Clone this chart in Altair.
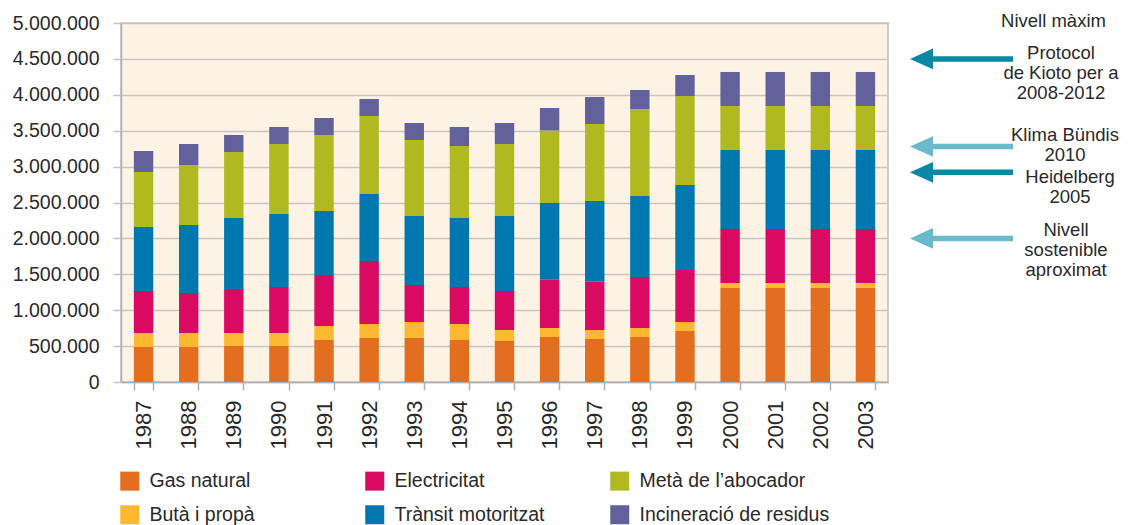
import altair as alt
import pandas as pd

# ---------------- data ----------------
years = [str(y) for y in range(1987, 2004)]

gas_natural = [487000, 487000, 501000, 501000, 585000, 613000, 613000, 585000, 571000,
               627000, 599000, 627000, 710000, 1309000, 1309000, 1309000, 1309000]
buta_propa = [195000, 195000, 181000, 181000, 195000, 195000, 223000, 223000, 153000,
              125000, 125000, 125000, 126000, 70000, 70000, 70000, 70000]
electricitat = [585000, 558000, 613000, 641000, 710000, 877000, 515000, 515000, 543000,
                673000, 673000, 710000, 724000, 752000, 752000, 752000, 752000]
transit = [892000, 947000, 989000, 1017000, 892000, 933000, 961000, 961000, 1045000,
           1068000, 1124000, 1129000, 1184000, 1100000, 1100000, 1100000, 1100000]
meta = [766000, 835000, 919000, 975000, 1058000, 1087000, 1059000, 1003000, 1003000,
        1010000, 1072000, 1211000, 1239000, 613000, 613000, 613000, 613000]
incineracio = [292000, 293000, 237000, 237000, 237000, 237000, 236000, 265000, 292000,
               313000, 376000, 265000, 293000, 474000, 474000, 474000, 474000]

series_names = ["Gas natural", "Butà i propà", "Electricitat",
                "Trànsit motoritzat", "Metà de l\u2019abocador", "Incineració de residus"]
series_values = [gas_natural, buta_propa, electricitat, transit, meta, incineracio]
series_colors = ["#e36e1f", "#fcb831", "#da0a62", "#0077ae", "#b1b920", "#626199"]

y_ticks = [0, 500000, 1000000, 1500000, 2000000, 2500000, 3000000,
           3500000, 4000000, 4500000, 5000000]

# reference levels on the right
levels = [4500000, 3280000, 2920000, 2000000]
level_labels = [["Protocol", "de Kioto per a", "2008-2012"],
                ["Klima Bündis", "2010"],
                ["Heidelberg", "2005"],
                ["Nivell", "sostenible", "aproximat"]]
top_label = "Nivell màxim"

# ---------------- styles ----------------
arrow_colors = ["#0a87a3", "#6bbacc", "#0a87a3", "#6bbacc"]
label_x = [940, 944, 949, 945]
label_dy = [-6.0, -11.5, 4.7, -8.4]
ANN_SIZE = 18.5
FONT = "Liberation Sans"
TXT = "#2a2a2a"
GRID = "#c9c6c1"

rows = []
for si, (name, vals) in enumerate(zip(series_names, series_values)):
    for yr, v in zip(years, vals):
        rows.append({"any": yr, "serie": name, "valor": v, "ordre": si})
df = pd.DataFrame(rows)

y_scale = alt.Scale(domain=[0, 5000000], nice=False)
y_axis = alt.Axis(title=None, values=y_ticks, labelOverlap=False,
                  labelExpr="replace(format(datum.value, ',d'), regexp(',', 'g'), '.')",
                  labelFontSize=19.5, labelPadding=14, tickSize=8,
                  labelColor=TXT, labelFont=FONT,
                  grid=True, gridColor=GRID, gridWidth=1.5,
                  domainColor="#b0b0b0", domainWidth=1.5,
                  tickColor=GRID, tickWidth=1.5)

bars = alt.Chart(df).mark_bar().encode(
    x=alt.X("any:N", sort=years,
            scale=alt.Scale(paddingInner=0.57, paddingOuter=0.285),
            axis=alt.Axis(title=None, labelAngle=-90, tickBand="extent",
                          labelFontSize=22, labelPadding=10, tickSize=8,
                          labelColor=TXT, labelFont=FONT, grid=False,
                          domainColor="#b0b0b0", domainWidth=1.5,
                          tickColor="#b0b0b0", tickWidth=1.5)),
    y=alt.Y("valor:Q", stack="zero", scale=y_scale, axis=y_axis),
    color=alt.Color("serie:N",
                    scale=alt.Scale(domain=series_names, range=series_colors),
                    legend=alt.Legend(title=None, orient="none", legendX=-1, legendY=448,
                                      columns=3, gridAlign="all", columnPadding=25,
                                      rowPadding=13, symbolType="square", symbolSize=361,
                                      symbolStrokeWidth=0, labelFontSize=19.5,
                                      labelOffset=10, labelLimit=400, labelColor=TXT,
                                      labelFont=FONT, padding=0)),
    order=alt.Order("ordre:Q", sort="ascending"),
)

layers = [bars]
lev_df = pd.DataFrame({"nivell": levels})
for i, lev in enumerate(levels):
    d = lev_df.iloc[[i]]
    yenc = alt.Y("nivell:Q", scale=y_scale, axis=y_axis)
    layers.append(alt.Chart(d).mark_rule(strokeWidth=5.5, color=arrow_colors[i]).encode(
        x=alt.value(809), x2=alt.value(892), y=yenc))
    layers.append(alt.Chart(d).mark_point(shape="M-1,0L1,-0.9L1,0.9Z", filled=True,
                                          size=529, opacity=1, color=arrow_colors[i]).encode(
        x=alt.value(800.5), y=yenc))
    txt_df = pd.DataFrame({"nivell": [lev], "text": [level_labels[i]]})
    layers.append(alt.Chart(txt_df).mark_text(
        fontSize=ANN_SIZE, font=FONT, color=TXT, align="center", baseline="middle",
        lineHeight=20, dy=label_dy[i]).encode(
        x=alt.value(label_x[i]), y=yenc, text="text"))

top_df = pd.DataFrame({"nivell": [5000000], "text": [top_label]})
layers.append(alt.Chart(top_df).mark_text(
    fontSize=ANN_SIZE, font=FONT, color=TXT, align="center", baseline="middle", dy=-2.3).encode(
    x=alt.value(932.5), y=alt.Y("nivell:Q", scale=y_scale, axis=y_axis), text="text"))

chart = alt.layer(*layers).properties(
    width=767, height=359,
    autosize=alt.AutoSizeParams(type="none"),
    padding={"left": 113, "top": 15, "right": 232, "bottom": 143},
    background="white",
).configure_view(fill="#fdf3e5", stroke="#bdbdbd", strokeWidth=1.5)

chart.save("out.html", embed_options={"renderer": "svg", "actions": False})
